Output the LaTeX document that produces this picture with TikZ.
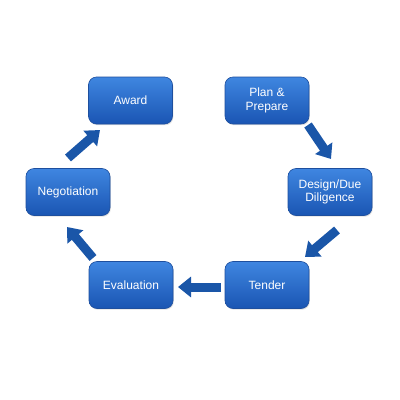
\documentclass[tikz,border=0pt]{standalone}
\usepackage{fontspec}
\setmainfont{Liberation Sans}
\usetikzlibrary{arrows.meta,shadows}
\definecolor{boxtop}{HTML}{3F86E0}
\definecolor{boxbot}{HTML}{1A55B3}
\definecolor{boxline}{HTML}{1E4F9E}
\definecolor{arrowblue}{HTML}{1A56A8}
\tikzset{
  stage/.style={draw=boxline, line width=0.6pt, rounded corners=8pt,
    top color=boxtop, bottom color=boxbot, minimum width=84pt, minimum height=47pt,
    text=white, font=\fontsize{12}{13.5}\selectfont, align=center, inner sep=2pt,
    drop shadow={shadow xshift=0.8pt, shadow yshift=-1.2pt, opacity=0.25}},
  blockarrow/.style={draw=arrowblue, line width=9pt,
    -{Triangle[width=20pt,length=13pt]}, arrowblue}
}
\begin{document}
\begin{tikzpicture}[x=1pt,y=-1pt]
\useasboundingbox[fill=white] (0,0) rectangle (400,400);
\node[stage] (award) at (130.5,100.5) {Award};
\node[stage] (plan) at (267,100.5) {Plan \&\\Prepare};
\node[stage] (design) at (330,192) {Design/Due\\Diligence};
\node[stage] (tender) at (267,285) {Tender};
\node[stage] (eval) at (131,285) {Evaluation};
\node[stage] (nego) at (68,192) {Negotiation};
\coordinate (a1s) at (68,158); \coordinate (a1e) at (100,130);
\coordinate (a2s) at (308,125); \coordinate (a2e) at (331,159);
\coordinate (a3s) at (337,230); \coordinate (a3e) at (305,257);
\coordinate (a4s) at (221,287); \coordinate (a4e) at (178,287);
\coordinate (a5s) at (93,258); \coordinate (a5e) at (67,227);
\draw[blockarrow] (a1s) -- (a1e);
\draw[blockarrow] (a2s) -- (a2e);
\draw[blockarrow] (a3s) -- (a3e);
\draw[blockarrow] (a4s) -- (a4e);
\draw[blockarrow] (a5s) -- (a5e);
\end{tikzpicture}
\end{document}
